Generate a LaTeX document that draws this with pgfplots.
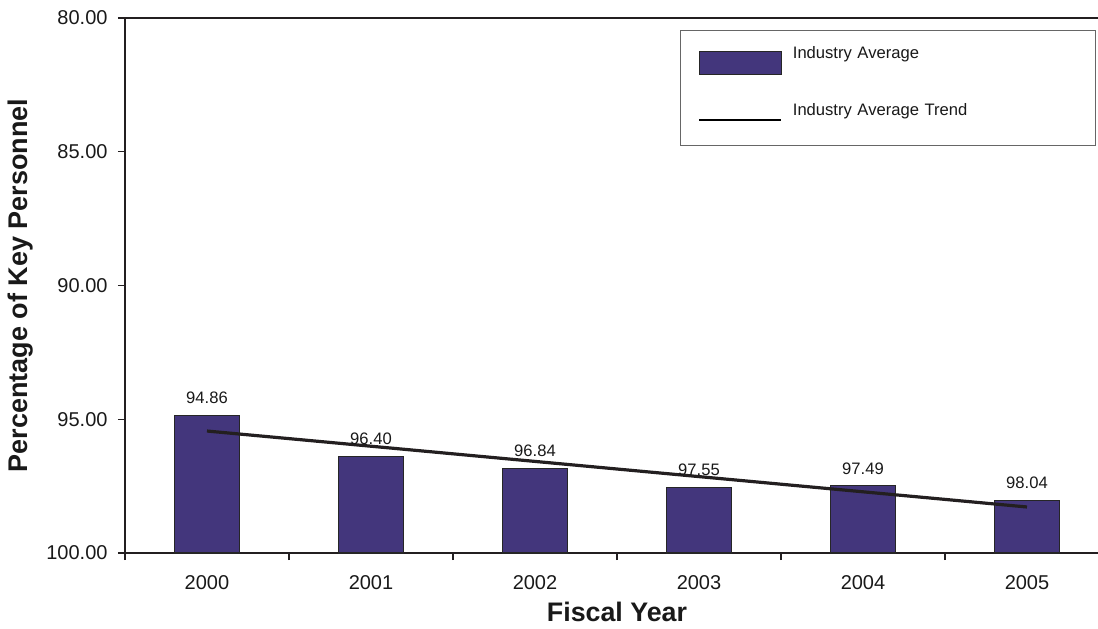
\documentclass[border=0pt]{standalone}
\usepackage{pgfplots}
\usepackage{pgfplotstable}
\pgfplotsset{compat=1.18}
\usepackage{fontspec}
\setmainfont{Liberation Sans}
\definecolor{barcol}{RGB}{67,54,124}
\definecolor{axcol}{RGB}{35,31,32}
\pgfplotstableread{
x y
0 94.86
1 96.40
2 96.84
3 97.55
4 97.49
5 98.04
}\datatable
\pgfplotstableread{
x y
0 95.44
5 98.28
}\trendtable
\begin{document}
\begin{tikzpicture}
\begin{axis}[
  name=ax,
  scale only axis,
  width=492pt, height=267.5pt,
  xmin=-0.5, xmax=5.5,
  y coord trafo/.code={\pgfmathparse{100-#1}},
  y coord inv trafo/.code={\pgfmathparse{100-#1}},
  ymin=100, ymax=80,
  ytick={80,85,90,95,100},
  yticklabels={80.00,85.00,90.00,95.00,100.00},
  xtick={-0.5,0.5,1.5,2.5,3.5,4.5,5.5},
  xticklabels={},
  extra x ticks={0,1,2,3,4,5},
  extra x tick labels={2000,2001,2002,2003,2004,2005},
  extra x tick style={major tick length=0pt, tick label style={yshift=-7.7pt}},
  xtick pos=bottom, ytick pos=left,
  tick align=outside,
  major tick length=3.5pt,
  axis line style={color=axcol, line width=0.65pt},
  tick style={color=axcol, line width=0.65pt},
  tick label style={font=\fontsize{10}{12}\selectfont, text=black!90},
  yticklabel style={xshift=-1.7pt},
  /pgf/number format/assume math mode=true,
  xlabel={Fiscal Year},
  ylabel={Percentage of Key Personnel},
  every axis x label/.style={at={(axis description cs:0.5,-0.1103)}, anchor=center, font=\bfseries\fontsize{13.4}{16}\selectfont, text=black!90},
  every axis y label/.style={at={(axis description cs:-0.1057,0.5)}, rotate=90, anchor=center, font=\bfseries\fontsize{13.5}{16}\selectfont, text=black!90},
  legend style={at={(0.564,0.9776)}, anchor=north west, draw=black!60, line width=0.6pt, fill=white,
    inner xsep=8.5pt, inner ysep=5.4pt, row sep=11.4pt,
    font=\fontsize{8.3}{10}\selectfont, text=black!90,
    cells={anchor=west},
    nodes={text width=140pt, align=left, inner sep=2.76pt},
    /tikz/every odd column/.append style={column sep=2.7pt}},
]
\addplot[ybar, bar width=0.4, fill=barcol, draw=black!85, line width=0.6pt,
  point meta=explicit symbolic,
  nodes near coords,
  every node near coord/.append style={anchor=south, yshift=2.2pt, font=\fontsize{8.3}{10}\selectfont, text=black!90},
  legend image code/.code={\draw[fill=barcol, draw=black!85, line width=0.6pt] (0pt,-10pt) rectangle (41pt,1.5pt);}
] table[x=x, y=y, meta=y] {\datatable};
\addlegendentry{Industry Average}
\addplot[line width=1.6pt, color=axcol,
  legend image code/.code={\path (0pt,-11pt); \draw[line width=0.8pt, black] (0pt,-4.5pt) -- (41pt,-4.5pt);}
] table[x=x, y=y] {\trendtable};
\addlegendentry{Industry Average Trend}
\end{axis}
\pgfresetboundingbox
\path[use as bounding box] ([shift={(-62.5pt,-37.5pt)}]ax.south west) rectangle ([shift={(486.5pt,276.5pt)}]ax.south west);
\end{tikzpicture}
\end{document}
